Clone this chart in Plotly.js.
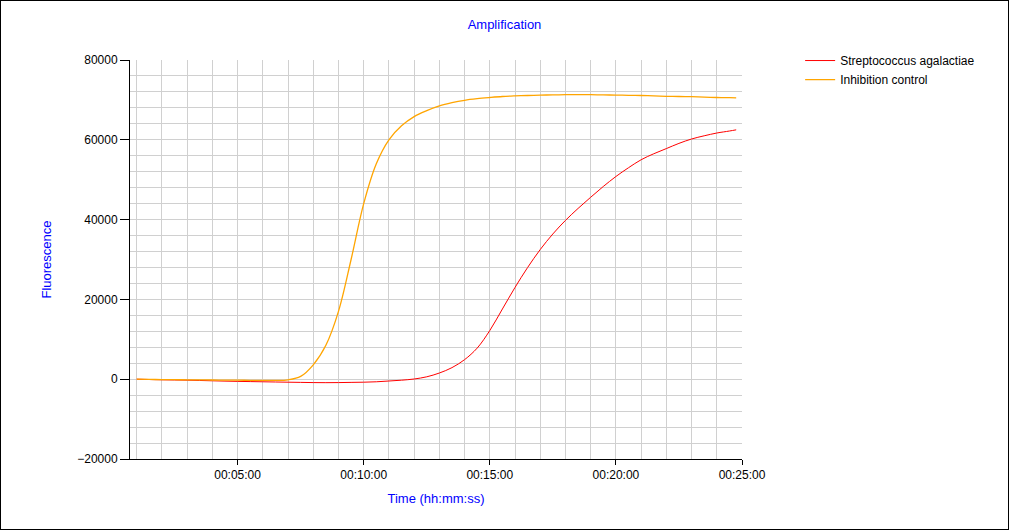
<!DOCTYPE html>
<html>
<head>
<meta charset="utf-8">
<script src="https://cdn.plot.ly/plotly-3.0.1.min.js"></script>
<style>
  html, body { margin: 0; padding: 0; background: #fff; }
  #frame { width: 1009px; height: 530px; box-sizing: border-box; border: 1px solid #000; position: relative; overflow: hidden; }
  #chart { position: absolute; left: -1px; top: -1px; width: 1009px; height: 530px; }
</style>
</head>
<body>
<div id="frame"><div id="chart"></div></div>
<script>
// Time in minutes (converted to seconds for the axis)
const timeMinutes = [1, 1.5, 2, 2.5, 3, 3.5, 4, 4.5, 5, 5.5, 6, 6.5, 7, 7.5, 8, 8.5, 9, 9.5, 10, 10.5, 11, 11.5, 12, 12.5, 13, 13.5, 14, 14.5, 15, 15.5, 16, 16.5, 17, 17.5, 18, 18.5, 19, 19.5, 20, 20.5, 21, 21.5, 22, 22.5, 23, 23.5, 24, 24.5, 24.77];
const streptococcus = [0, -80, -150, -200, -250, -320, -400, -480, -550, -600, -650, -700, -750, -800, -850, -870, -850, -800, -750, -650, -450, -250, 50, 600, 1550, 2900, 4900, 7800, 12200, 17600, 23000, 28000, 32500, 36400, 39800, 42800, 45600, 48300, 50800, 53000, 55000, 56500, 57800, 59100, 60200, 61000, 61700, 62200, 62500];
const inhibition = [0, -50, -100, -120, -150, -170, -200, -220, -250, -270, -300, -300, -150, 700, 3600, 8500, 17000, 30000, 44000, 54000, 60000, 63500, 65800, 67300, 68500, 69300, 69900, 70300, 70600, 70850, 71000, 71100, 71200, 71250, 71300, 71300, 71300, 71250, 71200, 71150, 71100, 71000, 70900, 70850, 70800, 70700, 70600, 70550, 70500];
const seriesNames = ["Streptococcus agalactiae", "Inhibition control"];
const tickSeconds = [300, 600, 900, 1200, 1500];
const tickLabels = ["00:05:00", "00:10:00", "00:15:00", "00:20:00", "00:25:00"];

const timeSeconds = timeMinutes.map(m => m * 60);
const font = "Liberation Sans, Arial, sans-serif";

const traces = [
  { x: timeSeconds, y: streptococcus, name: seriesNames[0], mode: "lines", line: { color: "#ff0000", width: 1, shape: "spline" } },
  { x: timeSeconds, y: inhibition, name: seriesNames[1], mode: "lines", line: { color: "#ffa500", width: 1.3, shape: "spline" } }
];

const layout = {
  width: 1009, height: 530,
  margin: { l: 130, r: 267, t: 60, b: 71 },
  paper_bgcolor: "rgba(0,0,0,0)", plot_bgcolor: "#fff",
  font: { family: font, size: 12, color: "#000" },
  title: { text: "Amplification", font: { family: font, size: 13, color: "#0000ff" }, x: 0.5, xref: "container", xanchor: "center", y: 1 - 24/530, yanchor: "middle" },
  xaxis: {
    range: [44, 1500], tickvals: tickSeconds, ticktext: tickLabels,
    showline: true, linecolor: "#000", linewidth: 1, mirror: false,
    ticks: "outside", ticklen: 5, tickcolor: "#000",
    showgrid: true, gridcolor: "#d0d0d0", gridwidth: 1, zeroline: false,
    minor: { tick0: 0, dtick: 60, showgrid: true, gridcolor: "#d0d0d0", gridwidth: 1, ticks: "" },
    title: { text: "Time (hh:mm:ss)", font: { family: font, size: 13, color: "#0000ff" }, standoff: 12 },
    fixedrange: true
  },
  yaxis: {
    range: [-20000, 80000], dtick: 20000, tick0: 0, tickformat: "d",
    showline: true, linecolor: "#000", linewidth: 1,
    ticks: "outside", ticklen: 9, tickcolor: "#000",
    showgrid: true, gridcolor: "#d0d0d0", gridwidth: 1, zeroline: false,
    minor: { dtick: 4000, showgrid: true, gridcolor: "#d0d0d0", gridwidth: 1, ticks: "" },
    title: { text: "Fluorescence", font: { family: font, size: 13, color: "#0000ff" }, standoff: 22 },
    fixedrange: true
  },
  showlegend: true,
  legend: {
    x: 1.095, y: 1.035, xanchor: "left", yanchor: "top",
    font: { family: font, size: 12, color: "#000" },
    bgcolor: "rgba(0,0,0,0)", borderwidth: 0, tracegroupgap: 0, itemwidth: 30
  }
};

Plotly.newPlot("chart", traces, layout, { displayModeBar: false, staticPlot: true });
</script>
</body>
</html>
